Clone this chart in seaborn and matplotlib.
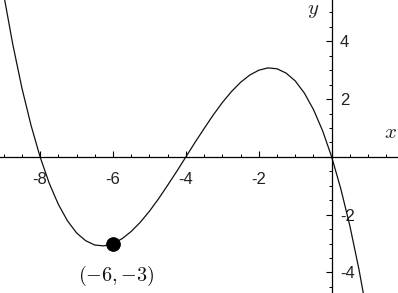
import matplotlib
matplotlib.use("Agg")
import matplotlib.pyplot as plt
import matplotlib.ticker as mticker
import seaborn as sns
import pandas as pd

# Curve points
x_vals = [-9.25, -9.0, -8.75, -8.5, -8.25, -8.0, -7.75, -7.5, -7.25, -7.0,
          -6.75, -6.5, -6.25, -6.0, -5.75, -5.5, -5.25, -5.0, -4.75, -4.5,
          -4.25, -4.0, -3.75, -3.5, -3.25, -3.0, -2.75, -2.5, -2.25, -2.0,
          -1.75, -1.5, -1.25, -1.0, -0.75, -0.5, -0.25, 0.0, 0.25, 0.5,
          0.75, 1.0]
y_vals = [7.59, 5.63, 3.90, 2.39, 1.10, 0.0, -0.91, -1.64, -2.21, -2.63,
          -2.90, -3.05, -3.08, -3.0, -2.83, -2.58, -2.26, -1.88, -1.45, -0.98,
          -0.50, 0.0, 0.50, 0.98, 1.45, 1.88, 2.26, 2.58, 2.83, 3.0,
          3.08, 3.05, 2.90, 2.63, 2.21, 1.64, 0.91, 0.0, -1.10, -2.39,
          -3.90, -5.63]
point_x = [-6]
point_y = [-3]
point_label = "$(-6,{-}3)$"
x_ticks = [-8, -6, -4, -2, 0]
y_ticks = [-4, -2, 0, 2, 4]

sns.set_theme(style="white")
plt.rcParams["font.family"] = ["Liberation Sans", "DejaVu Sans"]
plt.rcParams["mathtext.fontset"] = "cm"

df = pd.DataFrame({"x": x_vals, "y": y_vals})

fig = plt.figure(figsize=(3.98, 2.93), dpi=100)
ax = fig.add_axes([0, 0, 1, 1])
sns.lineplot(data=df, x="x", y="y", ax=ax, color="#111111", linewidth=0.9,
             sort=False, estimator=None)
sns.scatterplot(x=point_x, y=point_y, ax=ax, color="black", s=95,
                edgecolor="black", zorder=5)

ax.set_xlim(-9.1, 1.82)
ax.set_ylim(-4.71, 5.43)

for s in ["top", "left"]:
    ax.spines[s].set_visible(False)
ax.spines["bottom"].set_position(("data", 0))
ax.spines["right"].set_position(("data", 0))
for s in ["bottom", "right"]:
    ax.spines[s].set_color("black")
    ax.spines[s].set_linewidth(0.9)

ax.yaxis.tick_right()
ax.xaxis.set_major_locator(mticker.FixedLocator(x_ticks))
ax.yaxis.set_major_locator(mticker.FixedLocator(y_ticks))
ax.xaxis.set_minor_locator(mticker.MultipleLocator(0.5))
ax.yaxis.set_minor_locator(mticker.MultipleLocator(0.5))
fmt = mticker.FuncFormatter(lambda v, p: "" if abs(v) < 1e-9 else f"{int(v)}")
ax.xaxis.set_major_formatter(fmt)
ax.yaxis.set_major_formatter(fmt)

ax.tick_params(axis="x", which="both", direction="in", bottom=True, top=False,
               colors="black", labelcolor="#222222", labelsize=12)
ax.tick_params(axis="x", which="major", length=4, width=0.8, pad=11)
ax.tick_params(axis="x", which="minor", length=2.5, width=0.7)
ax.tick_params(axis="y", which="both", direction="in", right=True, left=False,
               colors="black", labelcolor="#222222", labelsize=12)
ax.tick_params(axis="y", which="major", length=4, width=0.8, pad=6)
ax.tick_params(axis="y", which="minor", length=2.5, width=0.7)

ax.set_xlabel("")
ax.set_ylabel("")

ax.text(390 / 398, 1 - 132 / 293, "$x$", transform=ax.transAxes,
        fontsize=15, ha="center", va="center", color="#222222")
ax.text(313 / 398, 1 - 10 / 293, "$y$", transform=ax.transAxes,
        fontsize=15, ha="center", va="center", color="#222222")
ax.annotate(point_label, xy=(point_x[0], point_y[0]), xytext=(2, -23),
            textcoords="offset points", ha="center", va="center",
            fontsize=14.5, color="#111111")

fig.savefig("out.png", dpi=100)
